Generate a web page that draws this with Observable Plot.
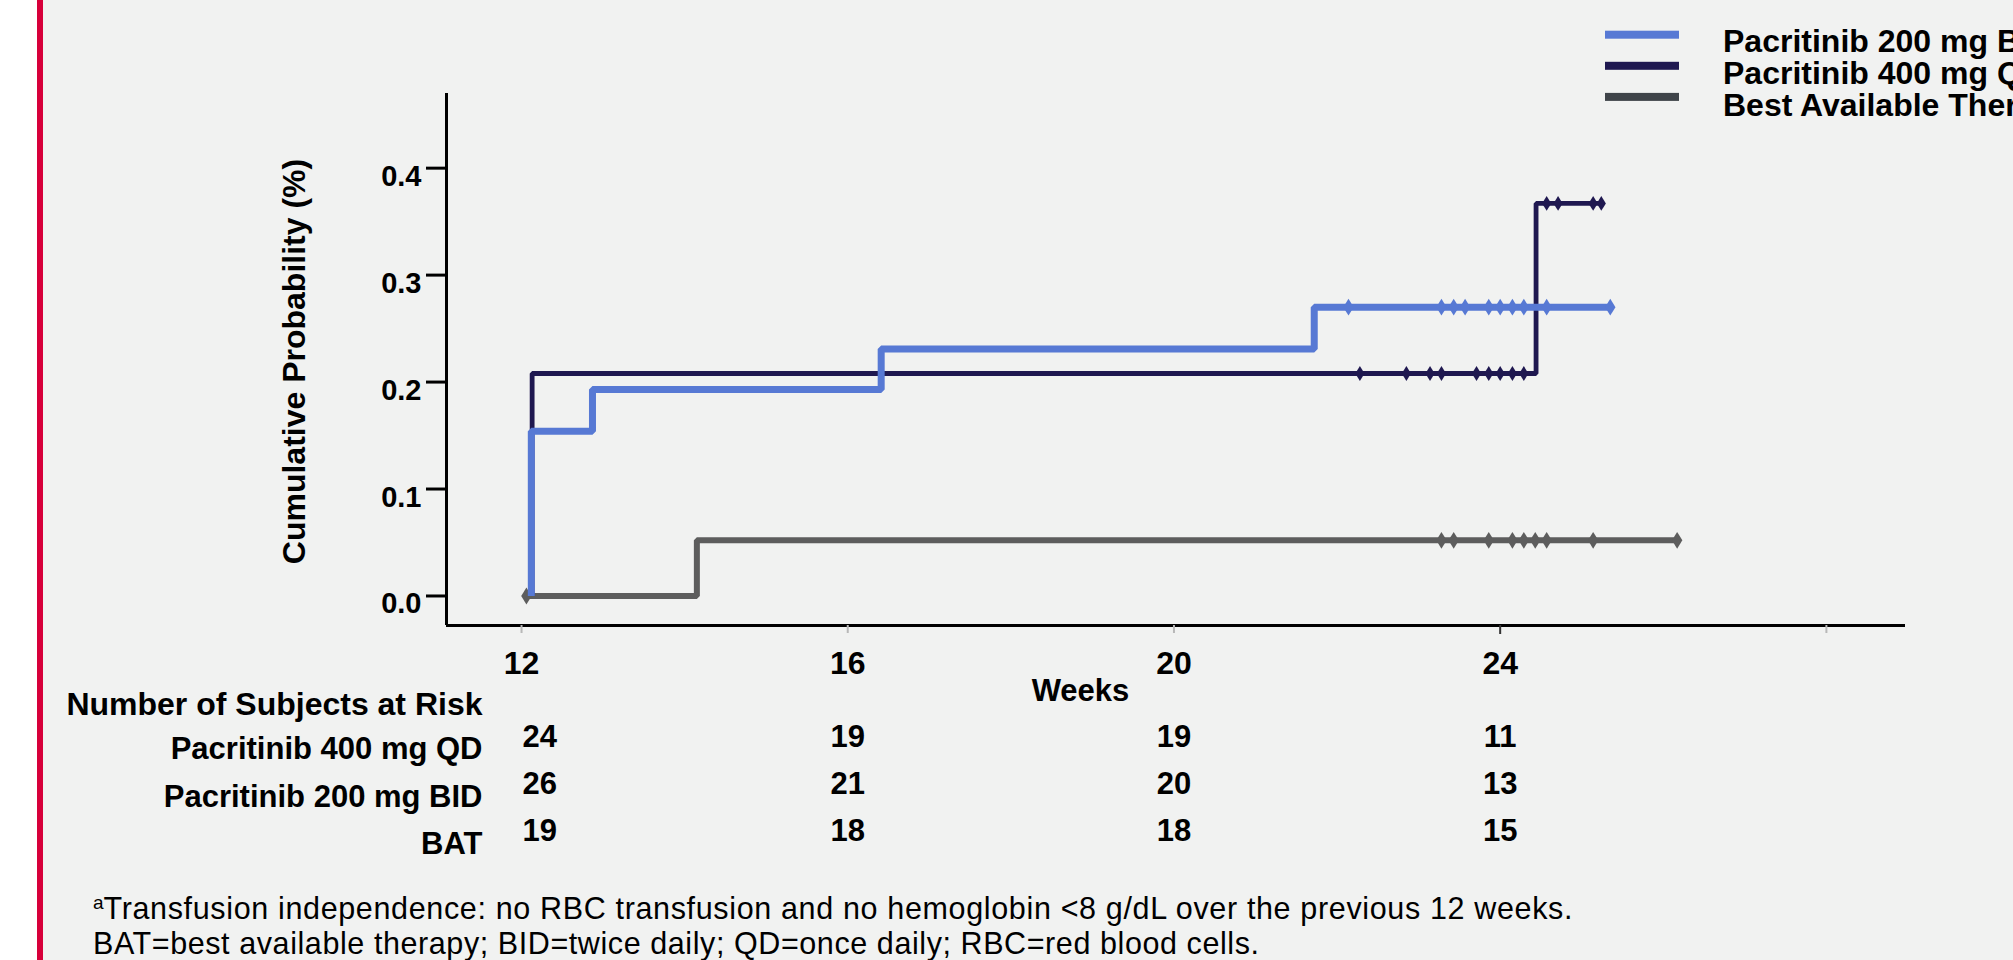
<!DOCTYPE html>
<html><head><meta charset="utf-8">
<script src="https://cdn.jsdelivr.net/npm/d3@7"></script>
<script src="https://cdn.jsdelivr.net/npm/@observablehq/plot@0.6"></script>
<style>
html,body{margin:0;padding:0;width:2013px;height:960px;overflow:hidden;background:#f1f2f1;font-family:"Liberation Sans",Arial,sans-serif;}
#white{position:absolute;left:0;top:0;width:37px;height:960px;background:#fff;}
#red{position:absolute;left:37px;top:0;width:6px;height:960px;background:#d7003a;}
#chart,#legend{position:absolute;left:0;top:0;}
</style></head>
<body>
<div id="white"></div><div id="red"></div>
<div id="chart"></div><div id="legend"></div>
<script>
// ---- data ----
const xDomain = [11.08, 28.97];
const yDomain = [-0.0276, 0.4698];
const xTicks = [12, 16, 20, 24, 28];
const xTickLabels = [12, 16, 20, 24];
const yTicks = [0, 0.1, 0.2, 0.3, 0.4];

const seriesNames = ["Pacritinib 200 mg BID", "Pacritinib 400 mg QD", "Best Available Therapy"];
const lineColors = ["#5779d4", "#1f1850", "#5d5d5d"];
const legendColors = ["#5779d4", "#1f1850", "#3f4449"];

// Kaplan–Meier cumulative curves (step-after)
const bidTime = [12.12, 12.12, 12.87, 16.41, 21.72, 25.35];
const bidProb = [0, 0.154, 0.193, 0.231, 0.270, 0.270];
const qdTime = [12.13, 12.13, 24.44, 25.24];
const qdProb = [0, 0.208, 0.367, 0.367];
const batTime = [12.06, 14.15, 26.17];
const batProb = [0, 0.052, 0.052];

// censoring times
const bidCensor = [22.14, 23.28, 23.43, 23.57, 23.86, 24.0, 24.15, 24.29, 24.57, 25.35];
const qdCensor = [22.28, 22.85, 23.14, 23.28, 23.71, 23.86, 24.0, 24.15, 24.29, 24.57, 24.71, 25.14, 25.24];
const batCensor = [12.06, 23.28, 23.43, 23.86, 24.15, 24.29, 24.43, 24.57, 25.14, 26.17];

// number at risk
const riskWeeks = [12, 16, 20, 24];
const riskRows = ["Pacritinib 400 mg QD", "Pacritinib 200 mg BID", "BAT"];
const riskQD = [24, 19, 19, 11];
const riskBID = [26, 21, 20, 13];
const riskBAT = [19, 18, 18, 15];

const yTitle = "Cumulative Probability (%)";
const xTitle = "Weeks";
const riskTitle = "Number of Subjects at Risk";
const footSup = "a";
const foot1 = "Transfusion independence: no RBC transfusion and no hemoglobin <8 g/dL over the previous 12 weeks.";
const foot2 = "BAT=best available therapy; BID=twice daily; QD=once daily; RBC=red blood cells.";

// ---- build ----
const FONT = "Liberation Sans, Arial, sans-serif";
const curves = [
  {t: bidTime, p: bidProb, c: bidCensor, color: lineColors[0], w: 7, r: 8.4},
  {t: qdTime, p: qdProb, c: qdCensor, color: lineColors[1], w: 4.8, r: 7.4},
  {t: batTime, p: batProb, c: batCensor, color: lineColors[2], w: 6, r: 8.4}
];
function stepAt(s, t) {
  let v = s.p[0];
  for (let i = 0; i < s.t.length; i++) if (s.t[i] <= t) v = s.p[i];
  return v;
}
const diamond = {
  draw(ctx, size) {
    const r = Math.sqrt(size / Math.PI);
    const w = r * 0.62;
    ctx.moveTo(0, -r); ctx.lineTo(w, 0); ctx.lineTo(0, r); ctx.lineTo(-w, 0); ctx.closePath();
  }
};

const bold = {fontWeight: "bold", fill: "#000"};
const curveMarks = [];
for (const k of [2, 1, 0]) {
  const s = curves[k];
  const pts = s.t.map((t, i) => ({t, p: s.p[i]}));
  curveMarks.push(Plot.line(pts, {x: "t", y: "p", curve: "step-after", stroke: s.color, strokeWidth: s.w, strokeLinejoin: "miter", strokeLinecap: "butt"}));
  const cs = s.c.map(t => ({t, p: stepAt(s, t)}));
  curveMarks.push(Plot.dot(cs, {x: "t", y: "p", r: s.r, symbol: diamond, fill: s.color, stroke: "none"}));
}

const riskSets = [riskQD, riskBID, riskBAT];
const rowNumDy = [121.7, 168.3, 215];
const rowLabDy = [133.3, 181.7, 228.3];
const tableMarks = [];
riskSets.forEach((vals, i) => {
  const data = riskWeeks.map((w, j) => ({w, n: vals[j]}));
  tableMarks.push(Plot.text(data.filter(d => d.w === riskWeeks[0]), {x: "w", text: "n", frameAnchor: "bottom", lineAnchor: "bottom", textAnchor: "start", dx: 1, dy: rowNumDy[i], fontSize: 31, ...bold}));
  tableMarks.push(Plot.text(data.filter(d => d.w !== riskWeeks[0]), {x: "w", text: "n", frameAnchor: "bottom", lineAnchor: "bottom", textAnchor: "middle", dy: rowNumDy[i], fontSize: 31, ...bold}));
  tableMarks.push(Plot.text([riskRows[i]], {text: d => d, frameAnchor: "bottom-left", textAnchor: "end", lineAnchor: "bottom", dx: 36, dy: rowLabDy[i], fontSize: 31, ...bold}));
});
tableMarks.push(Plot.text([riskTitle], {text: d => d, frameAnchor: "bottom-left", textAnchor: "end", lineAnchor: "bottom", dx: 36, dy: 89, fontSize: 32, ...bold}));

const chart = Plot.plot({
  width: 2013, height: 960,
  marginLeft: 446, marginRight: 108, marginTop: 93, marginBottom: 335,
  style: {background: "transparent", overflow: "visible", fontFamily: FONT},
  x: {domain: xDomain},
  y: {domain: yDomain},
  marks: [
    ...curveMarks,
    Plot.ruleX([xDomain[0]], {stroke: "#000", strokeWidth: 3}),
    Plot.ruleY([yDomain[0]], {stroke: "#000", strokeWidth: 3}),
    Plot.axisY(yTicks, {tickSize: 20, strokeWidth: 3, stroke: "#000", tickFormat: () => "", label: null}),
    Plot.axisX(xTicks.filter(t => t !== 24), {tickSize: 8, strokeWidth: 2, stroke: "#b8b8b8", tickFormat: () => "", label: null}),
    Plot.axisX(xTicks.filter(t => t === 24), {tickSize: 9, strokeWidth: 2, stroke: "#333", tickFormat: () => "", label: null}),
    Plot.text(yTicks, {y: d => d, text: d => d3.format(".1f")(d), frameAnchor: "left", textAnchor: "end", lineAnchor: "bottom", dx: -25, dy: 17.5, fontSize: 29, ...bold}),
    Plot.text(xTickLabels, {x: d => d, text: d => String(d), frameAnchor: "bottom", lineAnchor: "bottom", textAnchor: "middle", dy: 48, fontSize: 32, ...bold}),
    Plot.text([xTitle], {text: d => d, frameAnchor: "bottom", lineAnchor: "bottom", textAnchor: "middle", dx: -95.5, dy: 75, fontSize: 31, ...bold}),
    Plot.text([yTitle], {text: d => d, frameAnchor: "left", textAnchor: "middle", lineAnchor: "middle", rotate: -90, dx: -151.5, dy: 2, fontSize: 32, ...bold}),
    ...tableMarks,
    Plot.text([footSup], {text: d => d, frameAnchor: "bottom-left", textAnchor: "start", lineAnchor: "bottom", dx: -353.5, dy: 283, fontSize: 19, fill: "#000"}),
    Plot.text([foot1], {text: d => d, frameAnchor: "bottom-left", textAnchor: "start", lineAnchor: "bottom", dx: -343, dy: 293, fontSize: 30.5, fill: "#000", className: "foot1"}),
    Plot.text([foot2], {text: d => d, frameAnchor: "bottom-left", textAnchor: "start", lineAnchor: "bottom", dx: -353.5, dy: 328, fontSize: 30.5, fill: "#000", className: "foot2"})
  ]
});
document.getElementById("chart").appendChild(chart);
// stretch footnote lines to the reference's measured widths
d3.select(chart).selectAll(".foot1 text").attr("textLength", 1469).attr("lengthAdjust", "spacing");
d3.select(chart).selectAll(".foot2 text").attr("textLength", 1166).attr("lengthAdjust", "spacing");

// legend
const leg = d3.select("#legend").append("svg").attr("width", 2013).attr("height", 140);
seriesNames.forEach((name, i) => {
  leg.append("rect").attr("x", 1605).attr("y", 30.7 + i * 31.1).attr("width", 74).attr("height", 8).attr("fill", legendColors[i]);
  leg.append("text").attr("x", 1723).attr("y", 52.3 + i * 31.7).attr("font-family", FONT)
    .attr("font-weight", "bold").attr("font-size", 32).attr("fill", "#000").text(name);
});
</script>
</body></html>
